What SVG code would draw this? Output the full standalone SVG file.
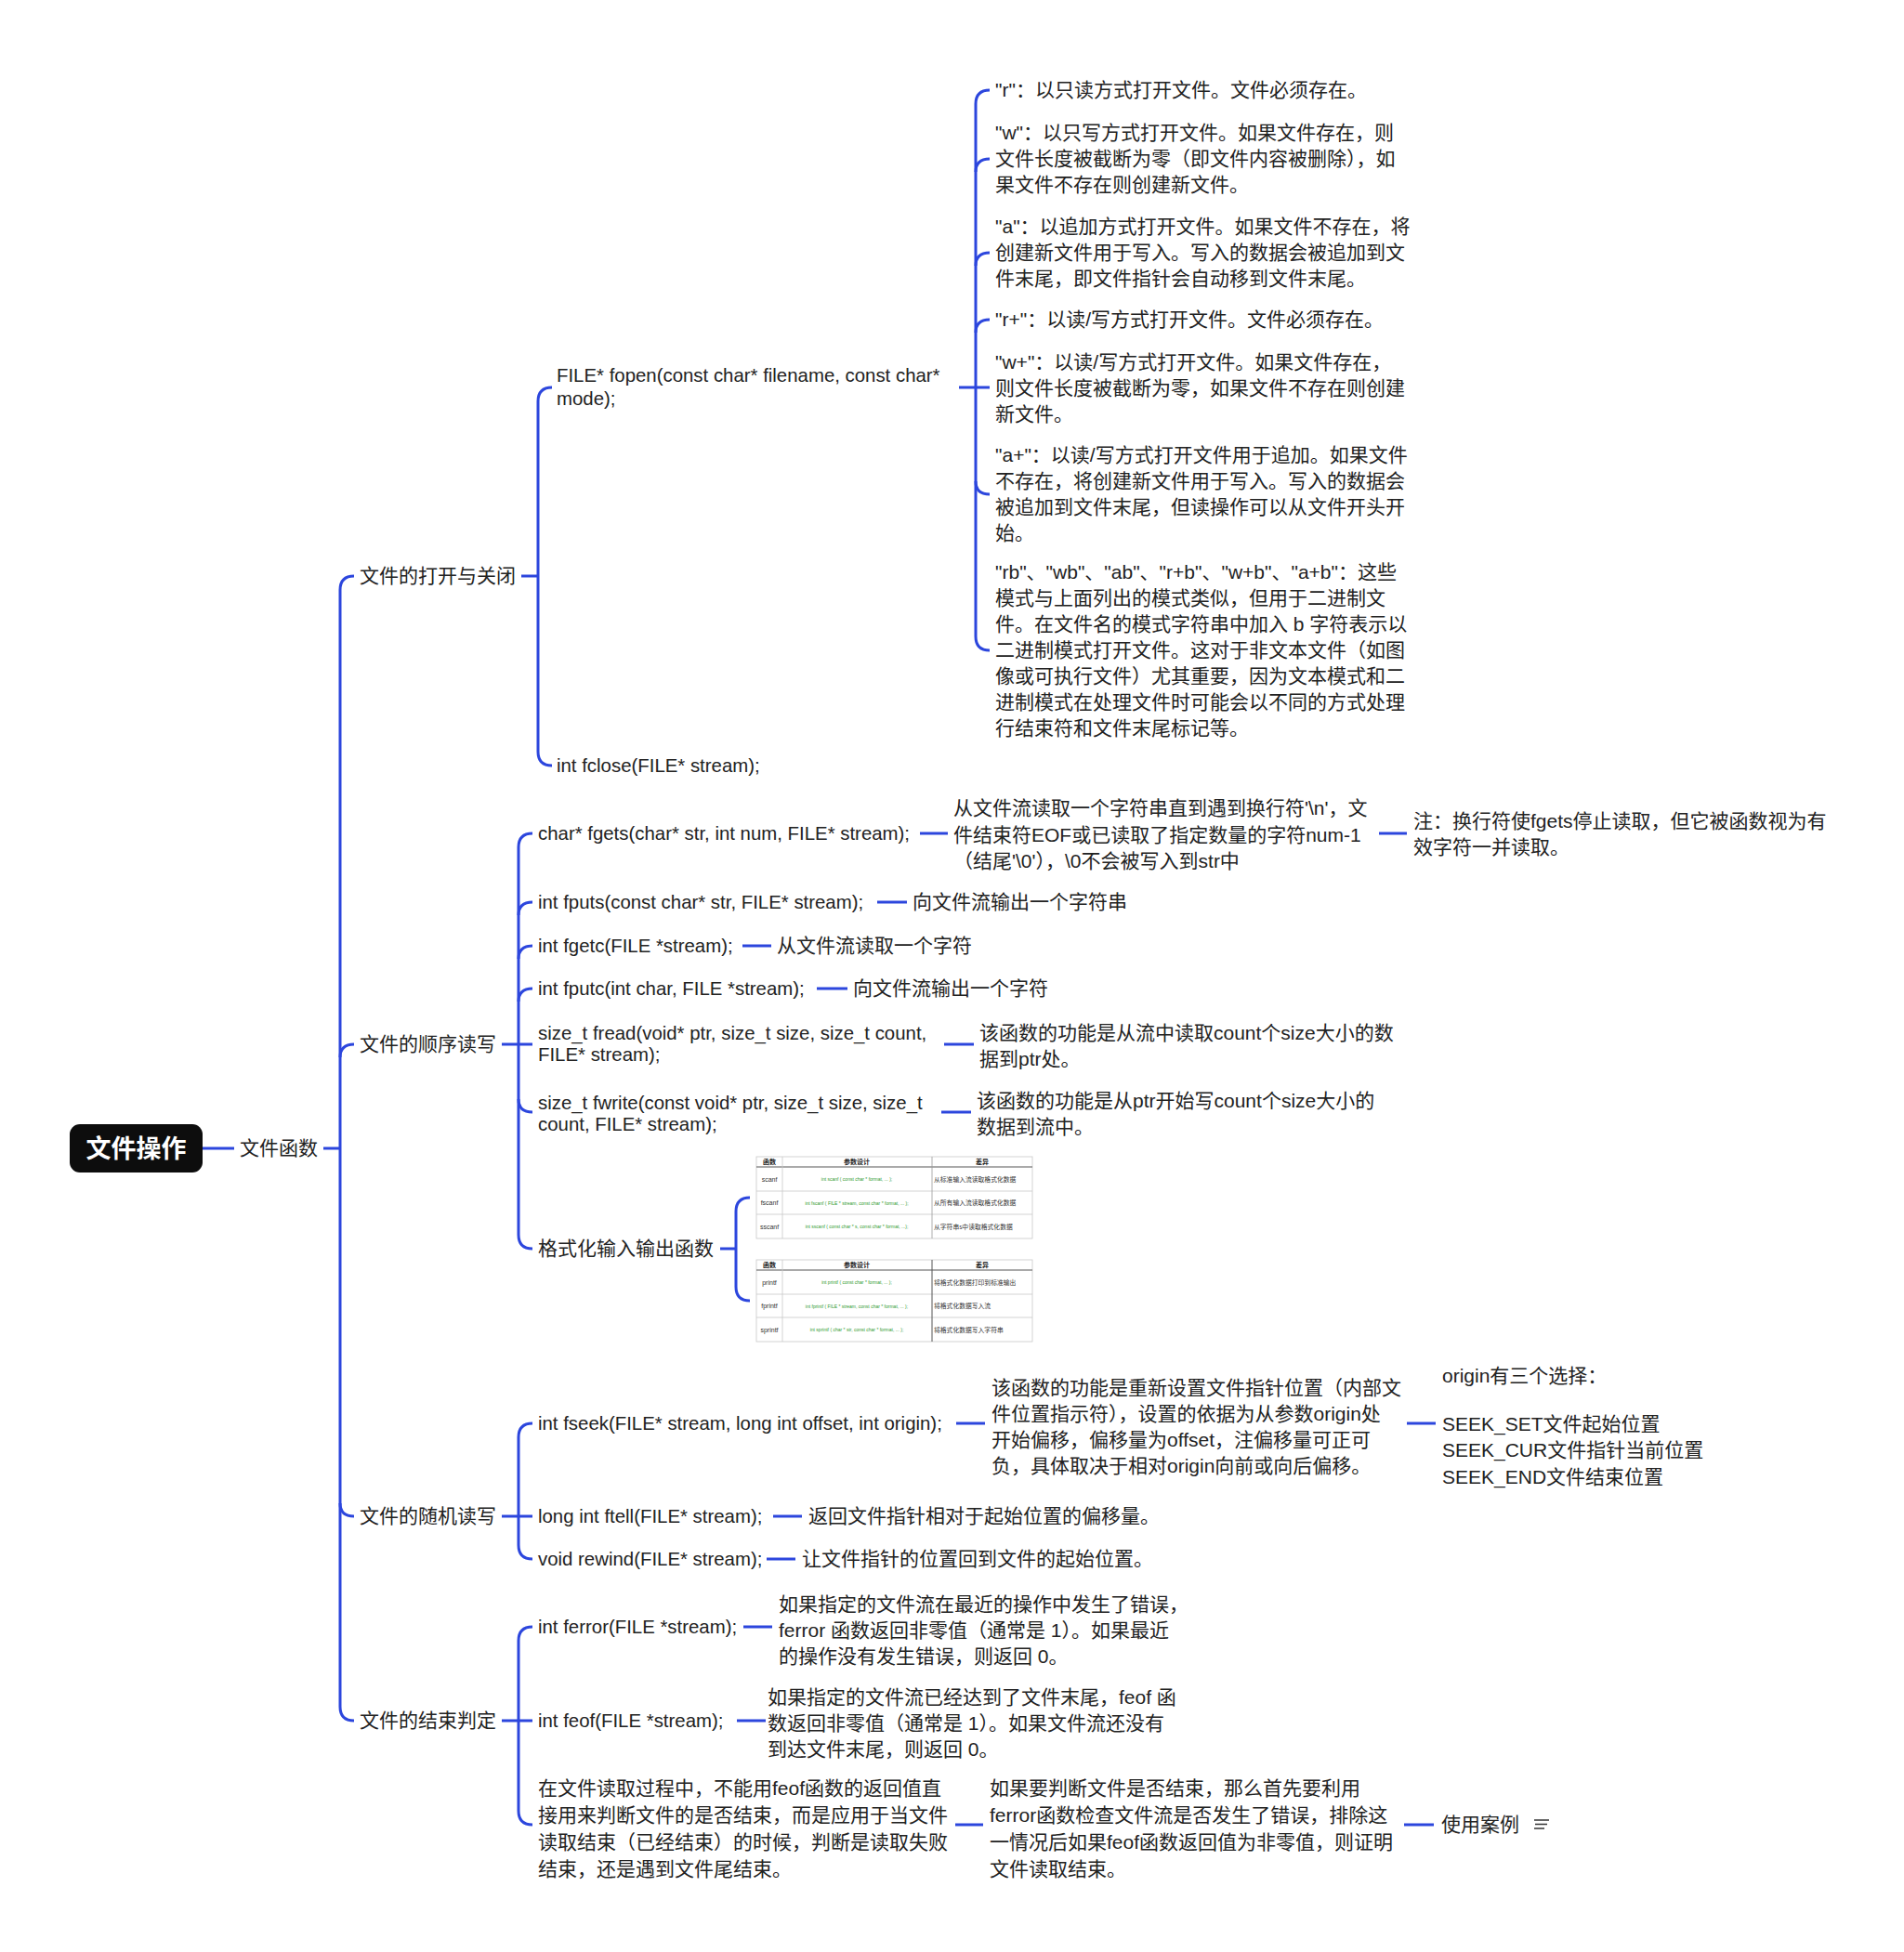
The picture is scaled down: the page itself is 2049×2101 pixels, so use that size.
<svg xmlns="http://www.w3.org/2000/svg" width="2049" height="2101" viewBox="0 0 2049 2101">
<style>
.t{font-family:'Liberation Sans','Noto Sans CJK SC',sans-serif;font-size:21px;fill:#222}
.l{font-size:20.4px}
.c{fill:none;stroke:#2c46dd;stroke-width:3}
.tb{fill:#fff;stroke:#c8c8c8;stroke-width:0.8}
.tl{stroke:#c8c8c8;stroke-width:0.8}
.td{stroke:#555;stroke-width:1}
.th{font-family:'Noto Sans CJK SC',sans-serif;font-size:7px;font-weight:bold;fill:#222;text-anchor:middle}
.tn{font-family:'Liberation Sans',sans-serif;font-size:7px;fill:#333;text-anchor:middle}
.tg{font-family:'Liberation Sans',sans-serif;font-size:5px;fill:#2e9a2e;text-anchor:middle}
.tc{font-family:'Noto Sans CJK SC',sans-serif;font-size:6.8px;fill:#333}
</style>
<rect width="2049" height="2101" fill="#fff"/>
<g id="connectors">
<path class="c" d="M218 1236H252"/>
<path class="c" d="M348 1236H366"/>
<path class="c" d="M381 620Q366 620 366 635V1837Q366 1852 381 1852"/>
<path class="c" d="M366 1138Q366 1124 381 1124"/>
<path class="c" d="M366 1618Q366 1632 381 1632"/>
<path class="c" d="M561 620H579"/>
<path class="c" d="M594 417Q579 417 579 432V809Q579 824 594 824"/>
<path class="c" d="M1032 417H1065"/>
<path class="c" d="M1065 97Q1050 97 1050 112V685Q1050 700 1065 700"/>
<path class="c" d="M1050 185Q1050 171 1065 171"/>
<path class="c" d="M1050 286Q1050 272 1065 272"/>
<path class="c" d="M1050 358Q1050 344 1065 344"/>
<path class="c" d="M1050 518Q1050 532 1065 532"/>
<path class="c" d="M540 1124H573"/>
<path class="c" d="M573 897Q558 897 558 912V1329Q558 1344 573 1344"/>
<path class="c" d="M558 985Q558 971 573 971"/>
<path class="c" d="M558 1032Q558 1018 573 1018"/>
<path class="c" d="M558 1078Q558 1064 573 1064"/>
<path class="c" d="M558 1183Q558 1197 573 1197"/>
<path class="c" d="M990 897H1020"/>
<path class="c" d="M1484 897H1514"/>
<path class="c" d="M944 971H976"/>
<path class="c" d="M799 1018H830"/>
<path class="c" d="M879 1064H912"/>
<path class="c" d="M1016 1124H1048"/>
<path class="c" d="M1013 1197H1045"/>
<path class="c" d="M775 1344H792"/>
<path class="c" d="M807 1289Q792 1289 792 1304V1385Q792 1400 807 1400"/>
<path class="c" d="M540 1632H573"/>
<path class="c" d="M573 1532Q558 1532 558 1547V1663Q558 1678 573 1678"/>
<path class="c" d="M1029 1532H1060"/>
<path class="c" d="M1514 1532H1545"/>
<path class="c" d="M832 1632H863"/>
<path class="c" d="M825 1678H856"/>
<path class="c" d="M540 1852H573"/>
<path class="c" d="M573 1751Q558 1751 558 1766V1949Q558 1964 573 1964"/>
<path class="c" d="M800 1751H831"/>
<path class="c" d="M793 1852H824"/>
<path class="c" d="M1028 1964H1058"/>
<path class="c" d="M1511 1964H1543"/>
</g>
<g id="root">
<rect x="75" y="1210" width="143" height="52" rx="11" fill="#0d0d0d"/>
<text x="146.5" y="1246" text-anchor="middle" style="font-family:'Noto Sans CJK SC',sans-serif;font-size:27px;font-weight:bold;fill:#fff">文件操作</text>
</g>
<g id="n-wjhs"><text class="t" x="258" y="1243">文件函数</text></g>
<g id="n-open"><text class="t" x="387" y="627">文件的打开与关闭</text></g>
<g id="n-seq"><text class="t" x="387" y="1131">文件的顺序读写</text></g>
<g id="n-rand"><text class="t" x="387" y="1639">文件的随机读写</text></g>
<g id="n-end"><text class="t" x="387" y="1859">文件的结束判定</text></g>
<g id="n-fopen"><text class="t l"><tspan x="599" y="411">FILE* fopen(const char* filename, const char*</tspan><tspan x="599" y="436">mode);</tspan></text></g>
<g id="n-fclose"><text class="t l" x="599" y="831">int fclose(FILE* stream);</text></g>
<g id="n-m1"><text class="t" x="1071" y="104">"r"：以只读方式打开文件。文件必须存在。</text></g>
<g id="n-m2"><text class="t"><tspan x="1071" y="150">"w"：以只写方式打开文件。如果文件存在，则</tspan><tspan x="1071" y="178">文件长度被截断为零（即文件内容被删除），如</tspan><tspan x="1071" y="206">果文件不存在则创建新文件。</tspan></text></g>
<g id="n-m3"><text class="t"><tspan x="1071" y="251">"a"：以追加方式打开文件。如果文件不存在，将</tspan><tspan x="1071" y="279">创建新文件用于写入。写入的数据会被追加到文</tspan><tspan x="1071" y="307">件末尾，即文件指针会自动移到文件末尾。</tspan></text></g>
<g id="n-m4"><text class="t" x="1071" y="351">"r+"：以读/写方式打开文件。文件必须存在。</text></g>
<g id="n-m5"><text class="t"><tspan x="1071" y="397">"w+"：以读/写方式打开文件。如果文件存在，</tspan><tspan x="1071" y="425">则文件长度被截断为零，如果文件不存在则创建</tspan><tspan x="1071" y="453">新文件。</tspan></text></g>
<g id="n-m6"><text class="t"><tspan x="1071" y="497">"a+"：以读/写方式打开文件用于追加。如果文件</tspan><tspan x="1071" y="525">不存在，将创建新文件用于写入。写入的数据会</tspan><tspan x="1071" y="553">被追加到文件末尾，但读操作可以从文件开头开</tspan><tspan x="1071" y="581">始。</tspan></text></g>
<g id="n-m7"><text class="t"><tspan x="1071" y="623">"rb"、"wb"、"ab"、"r+b"、"w+b"、"a+b"：这些</tspan><tspan x="1071" y="651">模式与上面列出的模式类似，但用于二进制文</tspan><tspan x="1071" y="679">件。在文件名的模式字符串中加入 b 字符表示以</tspan><tspan x="1071" y="707">二进制模式打开文件。这对于非文本文件（如图</tspan><tspan x="1071" y="735">像或可执行文件）尤其重要，因为文本模式和二</tspan><tspan x="1071" y="763">进制模式在处理文件时可能会以不同的方式处理</tspan><tspan x="1071" y="791">行结束符和文件末尾标记等。</tspan></text></g>
<g id="n-fgets"><text class="t l" x="579" y="904">char* fgets(char* str, int num, FILE* stream);</text></g>
<g id="n-fgets-d"><text class="t"><tspan x="1026" y="877">从文件流读取一个字符串直到遇到换行符'\n'，文</tspan><tspan x="1026" y="906">件结束符EOF或已读取了指定数量的字符num-1</tspan><tspan x="1026" y="934">（结尾'\0'），\0不会被写入到str中</tspan></text></g>
<g id="n-fgets-note"><text class="t"><tspan x="1521" y="891">注：换行符使fgets停止读取，但它被函数视为有</tspan><tspan x="1521" y="919">效字符一并读取。</tspan></text></g>
<g id="n-fputs"><text class="t l" x="579" y="978">int fputs(const char* str, FILE* stream);</text></g>
<g id="n-fputs-d"><text class="t" x="982" y="978">向文件流输出一个字符串</text></g>
<g id="n-fgetc"><text class="t l" x="579" y="1025">int fgetc(FILE *stream);</text></g>
<g id="n-fgetc-d"><text class="t" x="836" y="1025">从文件流读取一个字符</text></g>
<g id="n-fputc"><text class="t l" x="579" y="1071">int fputc(int char, FILE *stream);</text></g>
<g id="n-fputc-d"><text class="t" x="918" y="1071">向文件流输出一个字符</text></g>
<g id="n-fread"><text class="t l"><tspan x="579" y="1119">size_t fread(void* ptr, size_t size, size_t count,</tspan><tspan x="579" y="1142">FILE* stream);</tspan></text></g>
<g id="n-fread-d"><text class="t"><tspan x="1054" y="1119">该函数的功能是从流中读取count个size大小的数</tspan><tspan x="1054" y="1147">据到ptr处。</tspan></text></g>
<g id="n-fwrite"><text class="t l"><tspan x="579" y="1194">size_t fwrite(const void* ptr, size_t size, size_t</tspan><tspan x="579" y="1217">count, FILE* stream);</tspan></text></g>
<g id="n-fwrite-d"><text class="t"><tspan x="1051" y="1192">该函数的功能是从ptr开始写count个size大小的</tspan><tspan x="1051" y="1220">数据到流中。</tspan></text></g>
<g id="n-fmt"><text class="t" x="579" y="1351">格式化输入输出函数</text></g>
<g id="n-table1">
<rect class="tb" x="814" y="1245" width="297" height="88"/>
<line class="td" x1="814" y1="1256" x2="1111" y2="1256"/>
<line class="tl" x1="814" y1="1282" x2="1111" y2="1282"/>
<line class="tl" x1="814" y1="1307" x2="1111" y2="1307"/>
<line class="tl" x1="842" y1="1245" x2="842" y2="1333"/>
<line class="tl" x1="1003" y1="1245" x2="1003" y2="1333" style="stroke:#999"/>
<text class="th" x="828" y="1253">函数</text><text class="th" x="922" y="1253">参数设计</text><text class="th" x="1057" y="1253">差异</text>
<text class="tn" x="828" y="1271.5">scanf</text><text class="tg" x="922" y="1271">int scanf ( const char * format, ... );</text><text class="tc" x="1005" y="1271.5">从标准输入流读取格式化数据</text>
<text class="tn" x="828" y="1297">fscanf</text><text class="tg" x="922" y="1296.5">int fscanf ( FILE * stream, const char * format, ... );</text><text class="tc" x="1005" y="1297">从所有输入流读取格式化数据</text>
<text class="tn" x="828" y="1322.5">sscanf</text><text class="tg" x="922" y="1322">int sscanf ( const char * s, const char * format, ...);</text><text class="tc" x="1005" y="1322.5">从字符串s中读取格式化数据</text>
</g>
<g id="n-table2">
<rect class="tb" x="814" y="1356" width="297" height="88"/>
<line class="td" x1="814" y1="1367" x2="1111" y2="1367"/>
<line class="tl" x1="814" y1="1393" x2="1111" y2="1393"/>
<line class="tl" x1="814" y1="1418" x2="1111" y2="1418"/>
<line class="tl" x1="842" y1="1356" x2="842" y2="1444"/>
<line class="td" x1="1003" y1="1356" x2="1003" y2="1444"/>
<text class="th" x="828" y="1364">函数</text><text class="th" x="922" y="1364">参数设计</text><text class="th" x="1057" y="1364">差异</text>
<text class="tn" x="828" y="1382.5">printf</text><text class="tg" x="922" y="1382">int printf ( const char * format, ... );</text><text class="tc" x="1005" y="1382.5">将格式化数据打印到标准输出</text>
<text class="tn" x="828" y="1408">fprintf</text><text class="tg" x="922" y="1407.5">int fprintf ( FILE * stream, const char * format, ... );</text><text class="tc" x="1005" y="1408">将格式化数据写入流</text>
<text class="tn" x="828" y="1433.5">sprintf</text><text class="tg" x="922" y="1433">int sprintf ( char * str, const char * format, ... );</text><text class="tc" x="1005" y="1433.5">将格式化数据写入字符串</text>
</g>
<g id="n-fseek"><text class="t l" x="579" y="1539">int fseek(FILE* stream, long int offset, int origin);</text></g>
<g id="n-fseek-d"><text class="t"><tspan x="1067" y="1501">该函数的功能是重新设置文件指针位置（内部文</tspan><tspan x="1067" y="1529">件位置指示符），设置的依据为从参数origin处</tspan><tspan x="1067" y="1557">开始偏移，偏移量为offset，注偏移量可正可</tspan><tspan x="1067" y="1585">负，具体取决于相对origin向前或向后偏移。</tspan></text></g>
<g id="n-origin"><text class="t"><tspan x="1552" y="1488">origin有三个选择：</tspan><tspan x="1552" y="1540">SEEK_SET文件起始位置</tspan><tspan x="1552" y="1568">SEEK_CUR文件指针当前位置</tspan><tspan x="1552" y="1597">SEEK_END文件结束位置</tspan></text></g>
<g id="n-ftell"><text class="t l" x="579" y="1639">long int ftell(FILE* stream);</text></g>
<g id="n-ftell-d"><text class="t" x="870" y="1639">返回文件指针相对于起始位置的偏移量。</text></g>
<g id="n-rewind"><text class="t l" x="579" y="1685">void rewind(FILE* stream);</text></g>
<g id="n-rewind-d"><text class="t" x="863" y="1685">让文件指针的位置回到文件的起始位置。</text></g>
<g id="n-ferror"><text class="t l" x="579" y="1758">int ferror(FILE *stream);</text></g>
<g id="n-ferror-d"><text class="t"><tspan x="838" y="1734">如果指定的文件流在最近的操作中发生了错误，</tspan><tspan x="838" y="1762">ferror 函数返回非零值（通常是 1）。如果最近</tspan><tspan x="838" y="1790">的操作没有发生错误，则返回 0。</tspan></text></g>
<g id="n-feof"><text class="t l" x="579" y="1859">int feof(FILE *stream);</text></g>
<g id="n-feof-d"><text class="t"><tspan x="826" y="1834">如果指定的文件流已经达到了文件末尾，feof 函</tspan><tspan x="826" y="1862">数返回非零值（通常是 1）。如果文件流还没有</tspan><tspan x="826" y="1890">到达文件末尾，则返回 0。</tspan></text></g>
<g id="n-note"><text class="t"><tspan x="579" y="1932">在文件读取过程中，不能用feof函数的返回值直</tspan><tspan x="579" y="1961">接用来判断文件的是否结束，而是应用于当文件</tspan><tspan x="579" y="1990">读取结束（已经结束）的时候，判断是读取失败</tspan><tspan x="579" y="2019">结束，还是遇到文件尾结束。</tspan></text></g>
<g id="n-note-d"><text class="t"><tspan x="1065" y="1932">如果要判断文件是否结束，那么首先要利用</tspan><tspan x="1065" y="1961">ferror函数检查文件流是否发生了错误，排除这</tspan><tspan x="1065" y="1990">一情况后如果feof函数返回值为非零值，则证明</tspan><tspan x="1065" y="2019">文件读取结束。</tspan></text></g>
<g id="n-case"><text class="t" x="1551" y="1971">使用案例</text>
<path d="M1651 1959H1667M1652 1963.5H1665M1651 1968H1662" stroke="#333" stroke-width="1.5" fill="none"/>
</g>
</svg>
